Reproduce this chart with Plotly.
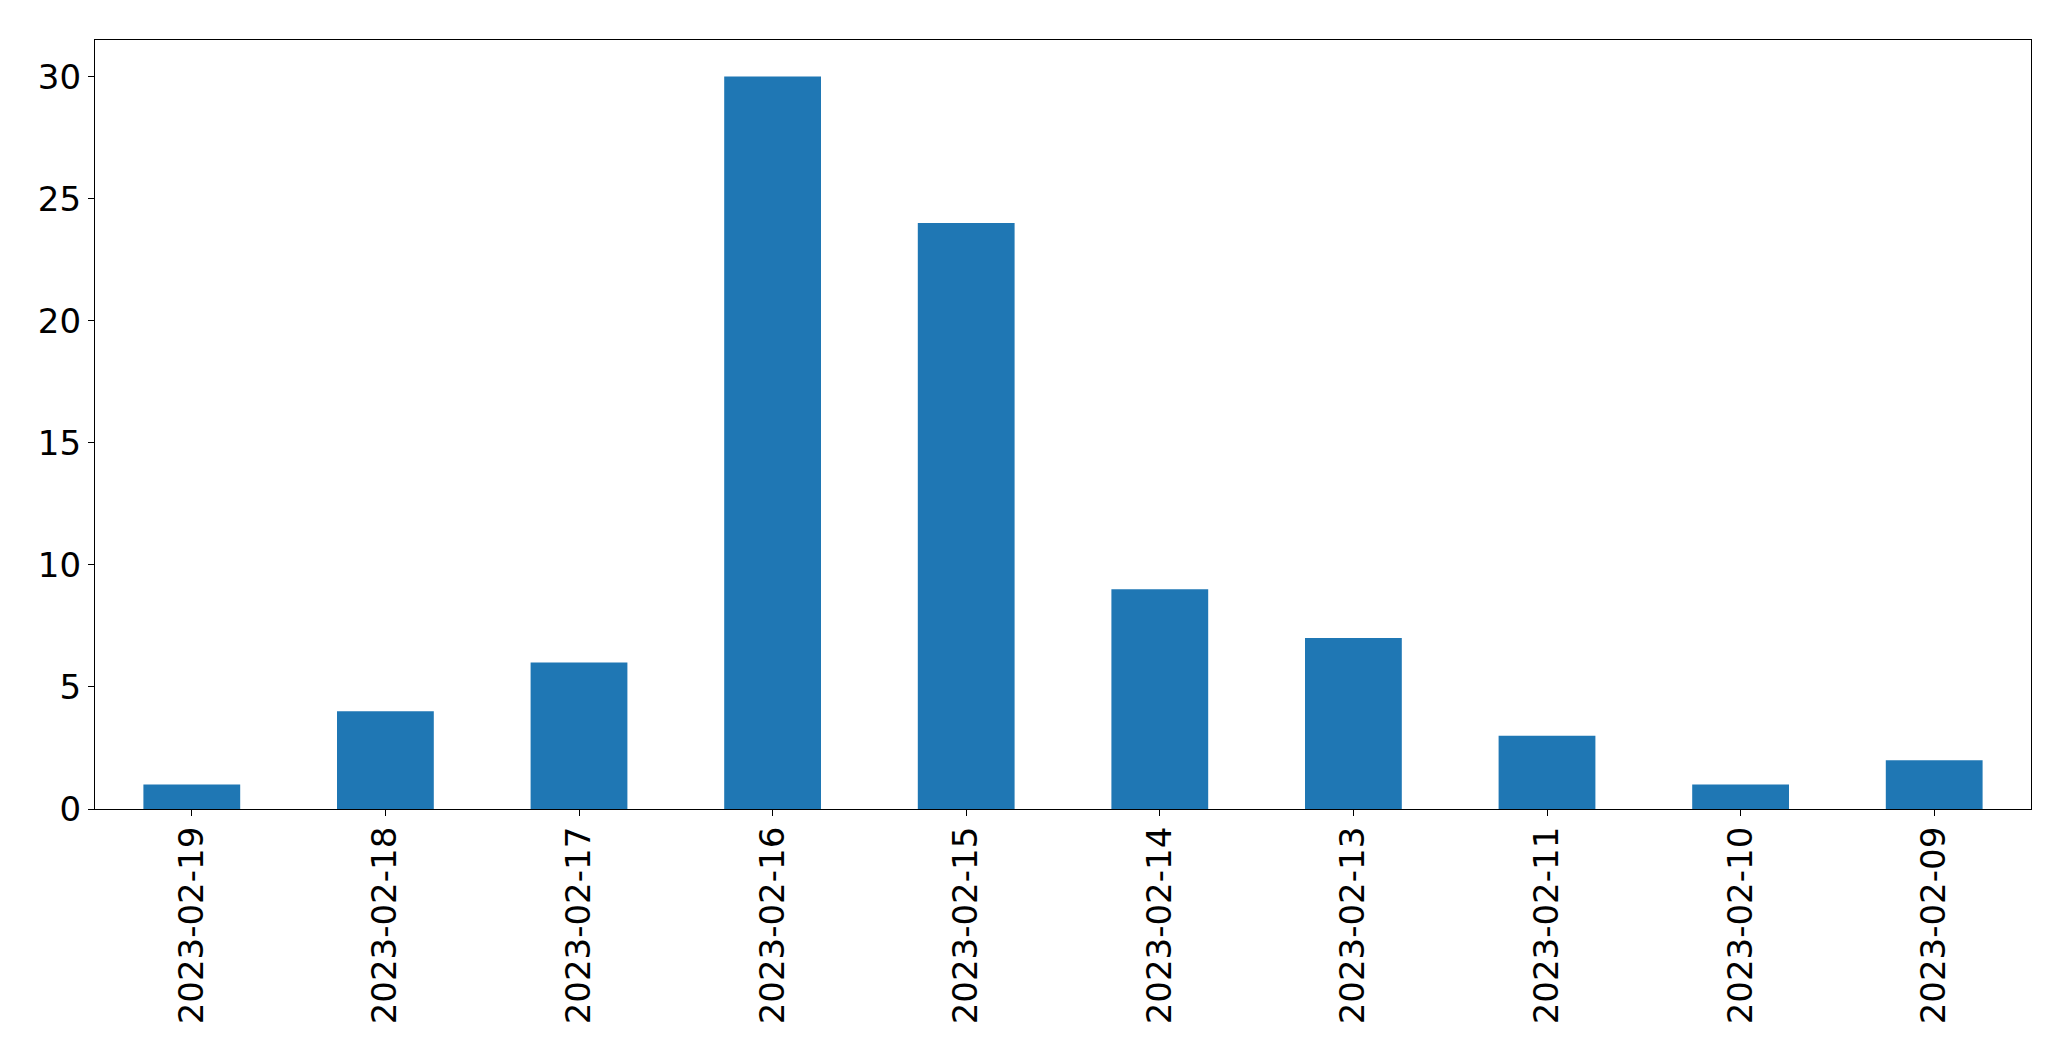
import plotly.graph_objects as go

dates = ["2023-02-19", "2023-02-18", "2023-02-17", "2023-02-16", "2023-02-15",
         "2023-02-14", "2023-02-13", "2023-02-11", "2023-02-10", "2023-02-09"]
counts = [1, 4, 6, 30, 24, 9, 7, 3, 1, 2]
y_ticks = [0, 5, 10, 15, 20, 25, 30]

fig = go.Figure(go.Bar(x=dates, y=counts, width=0.5, marker=dict(color="#1f77b4", line=dict(width=0))))

font = dict(family="DejaVu Sans", size=34, color="black")
# page body has an 8px default margin; compensate so the plot area lands where the reference's does
fig.update_layout(
    width=2063, height=1053,
    margin=dict(l=86.5, r=39.5, t=31.5, b=252, pad=0),
    paper_bgcolor="white", plot_bgcolor="white",
    showlegend=False,
    font=font,
)
fig.update_xaxes(type="category", range=[-0.5, 9.5], tickangle=-90, automargin=False,
                 showline=True, linecolor="black", linewidth=1.3, mirror=True,
                 ticks="outside", ticklen=6, tickcolor="black", tickwidth=1.3,
                 ticklabelstandoff=-3,
                 showgrid=False, zeroline=False, tickfont=font)
fig.update_yaxes(range=[0, 31.5], tickvals=y_ticks, automargin=False,
                 showline=True, linecolor="black", linewidth=1.3, mirror=True,
                 ticks="outside", ticklen=6, tickcolor="black", tickwidth=1.3,
                 showgrid=False, zeroline=False, tickfont=font)

fig.write_html("out.html")
